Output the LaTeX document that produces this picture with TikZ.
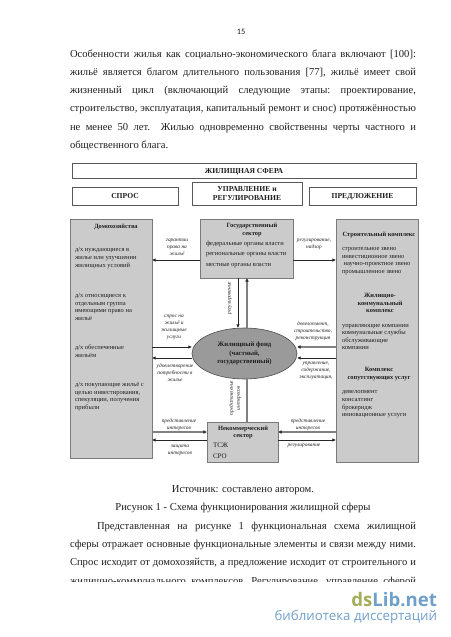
\documentclass[tikz,border=0pt]{standalone}
\usepackage{fontspec}
\setmainfont{Liberation Serif}
\newfontfamily\calib{Carlito}
\newfontfamily\wmfont{Open Sans}
\usetikzlibrary{arrows.meta,shapes.geometric}
\definecolor{boxgrey}{HTML}{CBCBCB}
\definecolor{edgegrey}{HTML}{7A7A7A}
\definecolor{ellgrey}{HTML}{9A9A9A}
\definecolor{wmgreen}{HTML}{A3AD5A}
\definecolor{wmblue}{HTML}{6F9FCB}
\newcommand{\fs}[2]{\fontsize{#1}{#2}\selectfont}
\newcommand{\jline}[2]{\makebox[#1pt][s]{#2}}
\newcommand{\nodp}[1]{\raisebox{0pt}[\height][0pt]{#1}}
\tikzset{
  x=1pt,y=-1pt,
  every node/.style={inner sep=0pt,outer sep=0pt,text=black!88},
  whitebox/.style={draw=black!65,line width=0.7pt,fill=white,align=center,font=\fs{7.6}{9}\bfseries},
  greybox/.style={draw=edgegrey,line width=1pt,fill=boxgrey},
  fund/.style={ellipse,draw=black!70,line width=0.6pt,fill=ellgrey,align=center,font=\fs{6.7}{8.6}\bfseries},
  body/.style={anchor=base west,font=\fs{10.6}{12}\frenchspacing},
  capt/.style={anchor=base,font=\fs{10.6}{12}},
  head/.style={align=center,font=\fs{6.4}{7.7}\bfseries},
  item/.style={anchor=west,align=left,font=\fs{6.5}{7.6}},
  lab/.style={align=center,font=\fs{5.4}{6.9}\itshape},
  thin arrow/.style={draw=black!85,line width=0.8pt,-{Latex[length=3.6pt,width=3.4pt]}},
  thick arrow/.style={draw=black!50,line width=1.5pt,-{Latex[length=3.6pt,width=3.8pt,black!85]}},
  thick line/.style={draw=black!50,line width=1.5pt},
}
\begin{document}
\begin{tikzpicture}
\useasboundingbox[fill=white] (0,0) rectangle (450,637);
% page text
\node[font=\calib\fs{8.3}{10}] (pnum) at (241,32) {15};
\node[body] (t1) at (70,57) {\jline{346}{Особенности жилья как социально-экономического блага включают [100]:}};
\node[body] (t2) at (70,75) {\jline{346}{жильё является благом длительного пользования [77], жильё имеет свой}};
\node[body] (t3) at (70,93.5) {\jline{346}{жизненный цикл (включающий следующие этапы: проектирование,}};
\node[body] (t4) at (70,111.5) {\jline{346}{строительство, эксплуатация, капитальный ремонт и снос) протяжённостью}};
\node[body] (t5) at (70,130) {\jline{346}{не менее 50 лет.\ \ Жилью одновременно свойственны черты частного и}};
\node[body] (t6) at (70,148) {общественного блага.};
% header boxes
\node[whitebox,minimum width=344pt,minimum height=15pt] (sphere) at (244,170.5) {\nodp{ЖИЛИЩНАЯ СФЕРА}};
\node[whitebox,minimum width=106pt,minimum height=18pt] (demand) at (125,196) {\nodp{СПРОС}};
\node[whitebox,minimum width=110pt,minimum height=23pt] (mgmt) at (247,193.5) {УПРАВЛЕНИЕ и\\РЕГУЛИРОВАНИЕ};
\node[whitebox,minimum width=107pt,minimum height=18pt] (supply) at (362.5,196) {\nodp{ПРЕДЛОЖЕНИЕ}};
% main blocks
\node[greybox,minimum width=82pt,minimum height=239pt] (house) at (111,338.5) {};
\node[greybox,minimum width=93pt,minimum height=59pt] (gov) at (246.5,248.5) {};
\node[greybox,minimum width=82pt,minimum height=243pt] (build) at (377,340.5) {};
\node[greybox,minimum width=71pt,minimum height=40pt] (ngo) at (242.5,442) {};
\node[fund,minimum width=105pt,minimum height=51pt] (fund) at (244.5,353.5) {Жилищный фонд\\(частный,\\государственный)};
% household text
\node[head] (h0) at (116,226) {\nodp{Домохозяйства}};
\node[item] (h1) at (75,258) {д/х нуждающиеся в\\жилье или улучшении\\жилищных условий};
\node[item] (h2) at (75,307) {д/х относящиеся к\\отдельным группа\\имеющими право на\\жильё};
\node[item] (h3) at (75,351.5) {д/х обеспеченные\\жильём};
\node[item] (h4) at (75,396.5) {д/х покупающие жильё с\\целью инвестирования,\\спекуляции, получения\\прибыли};
% government text
\node[head] (g0) at (252,230) {Государственный\\сектор};
\node[item] (g1) at (206,244) {федеральные органы власти};
\node[item] (g2) at (206,255) {региональные органы власти};
\node[item] (g3) at (206,266) {местные органы власти};
% construction text
\node[head] (b0) at (379,234) {\nodp{Строительный комплекс}};
\node[item] (b1) at (342,261) {строительное звено\\инвестиционное звено\\\ научно-проектное звено\\промышленное звено};
\node[head] (b2) at (380,303) {Жилищно-\\коммунальный\\комплекс};
\node[item] (b3) at (342,337) {управляющие компании\\коммунальные службы\\обслуживающие\\компании};
\node[head] (b4) at (379,374) {Комплекс\\сопутствующих услуг};
\node[item] (b5) at (342,404.5) {девелопмент\\консалтинг\\брокеридж\\инновационные услуги};
% non-profit text
\node[head] (n0) at (243,432.5) {Некоммерческий\\сектор};
\node[item,font=\fs{7}{8}] (n1) at (213,445) {ТСЖ};
\node[item,font=\fs{7}{8}] (n2) at (213,456) {СРО};
% connectors
\coordinate (r1) at (0,260);
\coordinate (r2) at (0,347);
\coordinate (r3) at (0,358);
\coordinate (r4) at (0,432);
\coordinate (r5) at (0,440);
\coordinate (c1) at (238,0);
\coordinate (c2) at (247,0);
\draw[thin arrow] (gov.west |- r1) -- (house.east |- r1);
\draw[thin arrow] (gov.east |- r1) -- (build.west |- r1);
\draw[thin arrow] (c1 |- gov.south) -- (c1 |- fund.north);
\draw[thick arrow] (c2 |- fund.north) -- (c2 |- gov.south);
\draw[thick line] (c2 |- ngo.north) -- (c2 |- fund.south);
\draw[thin arrow] (house.east |- r2) -- (fund.west |- r2);
\draw[thin arrow] (fund.west |- r3) -- (house.east |- r3);
\draw[thick arrow] (build.west |- r2) -- (fund.east |- r2);
\draw[thin arrow] (build.west |- r3) -- (fund.east |- r3);
\draw[thick arrow] (house.east |- r4) -- (ngo.west |- r4);
\draw[thin arrow] (ngo.west |- r5) -- (house.east |- r5);
\draw[thick arrow] (build.west |- r4) -- (ngo.east |- r4);
\draw[thin arrow] (ngo.east |- r5) -- (build.west |- r5);
% connector labels
\node[lab] (l1) at (177,247) {гарантии\\права на\\жильё};
\node[lab] (l2) at (314,244.5) {регулирование,\\надзор};
\node[lab,rotate=90] (l3) at (230,298) {регулирование};
\node[lab] (l4) at (174,327.5) {спрос на\\жильё и\\жилищные\\услуги};
\node[lab] (l5) at (175,372.5) {удовлетворение\\потребности в\\жилье};
\node[lab] (l6) at (313,331) {девелопмент,\\строительство,\\реконструкция};
\node[lab] (l7) at (316,371) {управление,\\содержание,\\эксплуатация,};
\node[lab,rotate=90] (l8) at (235,398) {представление\\интересов};
\node[lab] (l9) at (179,424.5) {представление\\интересов};
\node[lab] (l10) at (180,450.5) {защита\\интересов};
\node[lab] (l11) at (308,424.5) {представление\\интересов};
\node[lab] (l12) at (304,446) {регулирование};
% caption and following text
\node[capt] (c0) at (243,492) {Источник: составлено автором.};
\node[capt] (c00) at (243,510.5) {Рисунок 1 - Схема функционирования жилищной сферы};
\node[body] (p1) at (97,529) {\jline{319}{Представленная на рисунке 1 функциональная схема жилищной}};
\node[body] (p2) at (70,547) {\jline{346}{сферы отражает основные функциональные элементы и связи между ними.}};
\node[body] (p3) at (70,565.5) {\jline{346}{Спрос исходит от домохозяйств, а предложение исходит от строительного и}};
\node[body] (p4) at (70,584) {\jline{346}{жилищно-коммунального комплексов. Регулирование, управление сферой}};
\fill[white] (60,582) rectangle (430,592);
% watermark
\node[anchor=east,font=\wmfont\bfseries\fs{18.6}{22}] (wm1) at (437,599.5) {\textcolor{wmgreen}{ds}\textcolor{wmblue}{Lib.net}};
\node[anchor=east,font=\wmfont\fs{13.3}{15},text=wmblue] (wm2) at (437,617) {библиотека диссертаций};
\end{tikzpicture}
\end{document}
